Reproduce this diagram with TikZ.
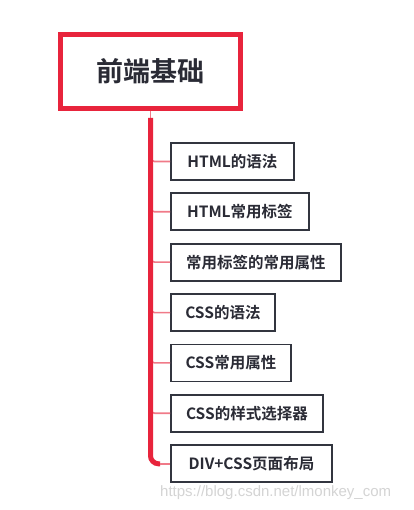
\documentclass[tikz,border=0pt]{standalone}
\usepackage{fontspec}
\newfontfamily\cjkb{Noto Sans CJK SC Bold}
\newfontfamily\wmfont{Liberation Sans}
\definecolor{rootred}{HTML}{E8243C}
\definecolor{branchpink}{HTML}{F07A88}
\definecolor{boxgray}{HTML}{32353F}
\definecolor{txt}{HTML}{2A2B35}
\definecolor{wm}{HTML}{D4D4D4}
\tikzset{
  rootbox/.style={draw=rootred, line width=5pt, fill=white, minimum width=180pt, minimum height=74pt,
    font=\cjkb\fontsize{27}{30}\selectfont, text=txt, inner sep=0pt},
  childbox/.style={draw=boxgray, line width=1.8pt, fill=white, minimum height=37pt, anchor=west,
    font=\cjkb\fontsize{15.5}{18}\selectfont, text=txt, inner sep=0pt},
  trunk/.style={draw=rootred, line width=5pt, rounded corners=8pt},
  branch/.style={draw=branchpink, line width=1.6pt, rounded corners=4pt},
  stem/.style={draw=branchpink, line width=1.6pt}
}
\begin{document}
\begin{tikzpicture}[x=1pt,y=-1pt]
\useasboundingbox (0,0) rectangle (413,510);
\fill[white] (0,0) rectangle (413,510);
\node[rootbox] (root) at (150.5,71.5) {前端基础};
\node[childbox, minimum width=123pt] (c1) at (170,161.5) {HTML的语法};
\node[childbox, minimum width=138pt] (c2) at (170,211.8) {HTML常用标签};
\node[childbox, minimum width=170pt] (c3) at (170,262.1) {常用标签的常用属性};
\node[childbox, minimum width=104pt] (c4) at (170,312.6) {CSS的语法};
\node[childbox, minimum width=120pt] (c5) at (170,362.9) {CSS常用属性};
\node[childbox, minimum width=152pt] (c6) at (170,413.2) {CSS的样式选择器};
\node[childbox, minimum width=161pt] (c7) at (170,463.8) {DIV+CSS页面布局};
\coordinate (ttop) at (150.5,118);
\coordinate (tend) at (160,463.8);
\draw[stem] (root.south) -- (ttop);
\foreach \c in {c1,c2,c3,c4,c5,c6}{
  \draw[branch] (ttop |- \c.west) ++(0,-5) |- (\c.west);
}
\draw[trunk] (ttop) |- (tend);
\draw[stem] (tend) -- (c7.west);
\node[font=\wmfont\fontsize{15}{17}\selectfont, text=wm, anchor=west, inner sep=0pt] (wmk) at (160,493) {https://blog.csdn.net/lmonkey\_com};
\end{tikzpicture}
\end{document}
